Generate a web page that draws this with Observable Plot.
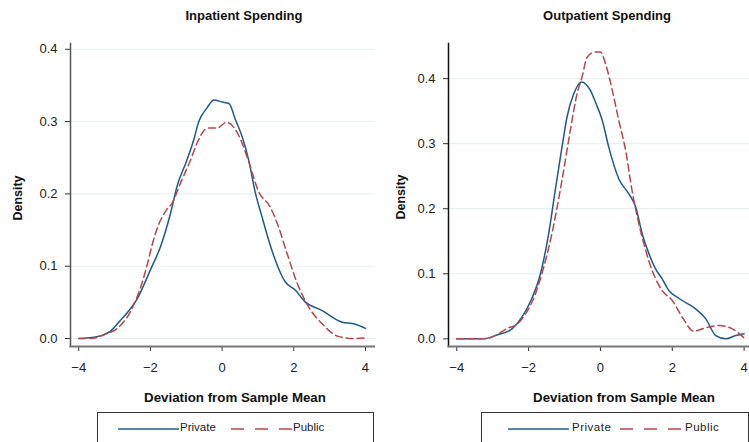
<!DOCTYPE html>
<html>
<head>
<meta charset="utf-8">
<script src="https://cdn.jsdelivr.net/npm/d3@7"></script>
<script src="https://cdn.jsdelivr.net/npm/@observablehq/plot@0.6"></script>
<style>
  html, body { margin: 0; padding: 0; background: #fff; }
  #wrap { position: relative; width: 749px; height: 442px; overflow: hidden; font-family: "Liberation Sans", Arial, sans-serif; }
  .panel { position: absolute; top: 0; }
  .title { position: absolute; font-weight: bold; font-size: 13px; color: #111; transform: translateX(-50%); white-space: nowrap; }
  .xlab { position: absolute; font-weight: bold; font-size: 13.3px; color: #111; transform: translateX(-50%); white-space: nowrap; }
  .ylab { position: absolute; font-weight: bold; font-size: 12.5px; color: #111; transform: translate(-50%,-50%) rotate(-90deg); white-space: nowrap; }
  .legend { position: absolute; top: 412px; height: 40px; border: 1px solid #333; box-sizing: border-box; }
  .leg-text { position: absolute; font-size: 11.5px; color: #222; top: 421px; white-space: nowrap; }
</style>
</head>
<body>
<div id="wrap"></div>
<script>
// ---- Data ----
const series = ["Private", "Public"];
const xTicks = [-4, -2, 0, 2, 4];
const yTicks = [0, 0.1, 0.2, 0.3, 0.4];

const inpPrivateX = [-4.0, -3.7, -3.3, -3.12, -2.84, -2.66, -2.37, -2.0, -1.72, -1.44, -1.26, -0.98, -0.79, -0.65, -0.42, -0.23, 0.0, 0.19, 0.37, 0.56, 0.74, 0.93, 1.11, 1.30, 1.48, 1.76, 2.04, 2.31, 2.78, 3.33, 3.70, 4.0];
const inpPrivateY = [0, 0.001, 0.0055, 0.010, 0.025, 0.035, 0.055, 0.095, 0.127, 0.173, 0.21, 0.247, 0.275, 0.30, 0.319, 0.330, 0.327, 0.325, 0.303, 0.279, 0.247, 0.201, 0.169, 0.136, 0.109, 0.0785, 0.067, 0.051, 0.039, 0.023, 0.020, 0.014];

const inpPublicX = [-4.0, -3.67, -3.3, -2.84, -2.56, -2.28, -2.1, -1.95, -1.75, -1.55, -1.4, -1.16, -0.88, -0.70, -0.5, -0.42, -0.14, 0.12, 0.37, 0.56, 0.74, 1.02, 1.34, 1.57, 1.81, 2.08, 2.41, 2.78, 3.24, 3.70, 4.0];
const inpPublicY = [0, 0, 0.005, 0.018, 0.037, 0.07, 0.1, 0.13, 0.16, 0.178, 0.187, 0.215, 0.247, 0.270, 0.288, 0.291, 0.291, 0.299, 0.289, 0.270, 0.245, 0.203, 0.182, 0.155, 0.118, 0.0785, 0.044, 0.021, 0.003, 0, 0.001];

const outPrivateX = [-4.0, -3.3, -2.84, -2.47, -2.19, -1.91, -1.67, -1.44, -1.26, -1.07, -0.93, -0.74, -0.53, -0.28, -0.14, 0.05, 0.23, 0.51, 0.79, 0.98, 1.16, 1.35, 1.53, 1.72, 1.91, 2.19, 2.65, 2.93, 3.21, 3.49, 3.77, 4.0];
const outPrivateY = [0, 0, 0.0067, 0.015, 0.033, 0.062, 0.1, 0.162, 0.228, 0.295, 0.341, 0.377, 0.395, 0.382, 0.364, 0.336, 0.295, 0.246, 0.223, 0.203, 0.162, 0.131, 0.108, 0.092, 0.074, 0.062, 0.046, 0.031, 0.005, 0, 0.005, 0.0077];

const outPublicX = [-4.0, -3.21, -2.84, -2.56, -2.37, -2.09, -1.81, -1.58, -1.35, -1.07, -0.84, -0.65, -0.51, -0.37, -0.14, 0.0, 0.14, 0.33, 0.51, 0.70, 0.88, 1.07, 1.26, 1.44, 1.72, 2.0, 2.28, 2.60, 2.93, 3.30, 3.67, 4.0];
const outPublicY = [0, 0, 0.0077, 0.017, 0.0205, 0.038, 0.069, 0.110, 0.162, 0.244, 0.32, 0.377, 0.403, 0.433, 0.441, 0.441, 0.423, 0.382, 0.336, 0.29, 0.228, 0.177, 0.136, 0.105, 0.074, 0.059, 0.033, 0.0118, 0.017, 0.0205, 0.0154, 0.0015];

const colors = { Private: "#1f5a86", Public: "#b5474c" };

function pts(xs, ys) { return xs.map((x, i) => ({ x, y: ys[i] })); }

function panel({ privX, privY, pubX, pubY, width, marginLeft, xDomain, yDomain, yAxisColor }) {
  return Plot.plot({
    width, height: 442,
    marginLeft, marginRight: 0, marginTop: 43, marginBottom: 96,
    style: { fontFamily: "'Liberation Sans', Arial, sans-serif", fontSize: "12px", color: "#222", background: "white" },
    x: { domain: xDomain, label: null },
    y: { domain: yDomain, label: null },
    marks: [
      Plot.gridY(yTicks, { stroke: "#e3efef", strokeOpacity: 1, strokeWidth: 1 }),
      Plot.axisY(yTicks, { tickFormat: d3.format(".1f"), tickSize: 5, tickPadding: 8, stroke: "#333", fontSize: 13, label: null }),
      Plot.axisX(xTicks, { tickSize: 5, tickPadding: 11, stroke: "#333", fontSize: 13, label: null }),
      Plot.frame({ anchor: "left", stroke: yAxisColor, strokeWidth: 1.5 }),
      Plot.frame({ anchor: "bottom", stroke: "#777", strokeWidth: 2 }),
      Plot.line(pts(privX, privY), { x: "x", y: "y", stroke: colors.Private, strokeWidth: 1.5, curve: "monotone-x" }),
      Plot.line(pts(pubX, pubY), { x: "x", y: "y", stroke: colors.Public, strokeWidth: 1.5, strokeDasharray: "7,4", curve: "monotone-x" })
    ]
  });
}

const wrap = document.getElementById("wrap");

const left = panel({ privX: inpPrivateX, privY: inpPrivateY, pubX: inpPublicX, pubY: inpPublicY,
  width: 375, marginLeft: 70, xDomain: [-4.23, 4.28], yDomain: [-0.011, 0.408], yAxisColor: "#555" });
left.classList.add("panel"); left.style.left = "0px";
wrap.appendChild(left);

const right = panel({ privX: outPrivateX, privY: outPrivateY, pubX: outPublicX, pubY: outPublicY,
  width: 374, marginLeft: 73, xDomain: [-4.23, 4.15], yDomain: [-0.0118, 0.454], yAxisColor: "#111" });
right.classList.add("panel"); right.style.left = "375px";
wrap.appendChild(right);

function addDiv(cls, text, css) {
  const d = document.createElement("div");
  d.className = cls; d.textContent = text;
  Object.assign(d.style, css);
  wrap.appendChild(d);
  return d;
}

// Titles and axis labels
addDiv("title", "Inpatient Spending", { left: "244px", top: "8px" });
addDiv("title", "Outpatient Spending", { left: "607px", top: "8px" });
addDiv("xlab", "Deviation from Sample Mean", { left: "235px", top: "390px" });
addDiv("xlab", "Deviation from Sample Mean", { left: "624px", top: "390px" });
addDiv("ylab", "Density", { left: "18px", top: "198px" });
addDiv("ylab", "Density", { left: "401px", top: "197px" });

// Legends
addDiv("legend", "", { left: "97px", width: "277px" });
addDiv("legend", "", { left: "481px", width: "268px" });

function legendLine(x1, x2, color, dash) {
  const ns = "http://www.w3.org/2000/svg";
  const svg = document.createElementNS(ns, "svg");
  svg.setAttribute("width", x2 - x1); svg.setAttribute("height", 6);
  svg.style.position = "absolute"; svg.style.left = x1 + "px"; svg.style.top = "426px";
  const l = document.createElementNS(ns, "line");
  l.setAttribute("x1", 0); l.setAttribute("x2", x2 - x1);
  l.setAttribute("y1", 3); l.setAttribute("y2", 3);
  l.setAttribute("stroke", color); l.setAttribute("stroke-width", 1.5);
  if (dash) l.setAttribute("stroke-dasharray", dash);
  svg.appendChild(l);
  wrap.appendChild(svg);
}

legendLine(118, 179, colors.Private, null);
addDiv("leg-text", series[0], { left: "180px" });
legendLine(231, 292, colors.Public, "13,11");
addDiv("leg-text", series[1], { left: "293px" });

legendLine(508, 569, colors.Private, null);
addDiv("leg-text", series[0], { left: "572px", letterSpacing: "0.5px" });
legendLine(620, 681, colors.Public, "13,11");
addDiv("leg-text", series[1], { left: "685px", letterSpacing: "0.5px" });
</script>
</body>
</html>
